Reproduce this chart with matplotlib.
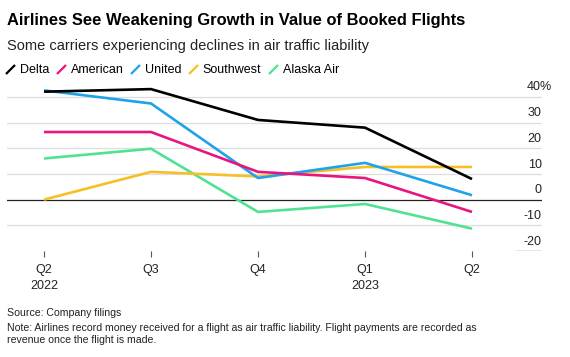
import matplotlib
matplotlib.use("Agg")
import matplotlib.pyplot as plt
import matplotlib.transforms as mtransforms
from matplotlib.lines import Line2D

# Valores (variação anual, %)
quarters = ["Q2\n2022", "Q3", "Q4", "Q1\n2023", "Q2"]
delta = [42, 43, 31, 28, 8]
american = [26.3, 26.3, 10.8, 8.4, -4.8]
united = [42.5, 37.4, 8.4, 14.3, 1.7]
southwest = [0, 10.8, 9, 12.7, 12.7]
alaska = [16, 19.8, -4.8, -1.7, -11.3]
y_ticks = [40, 30, 20, 10, 0, -10, -20]
y_labels = ["40%", "30", "20", "10", "0", "-10", "-20"]

series = [
    ("Delta", delta, "#000000", 6),
    ("American", american, "#e8157f", 5),
    ("United", united, "#1fa3e8", 4),
    ("Southwest", southwest, "#f6bf26", 3),
    ("Alaska Air", alaska, "#4fe391", 2),
]

plt.rcParams["font.family"] = ["Liberation Sans", "DejaVu Sans"]

W, H = 570, 357
fig = plt.figure(figsize=(W / 100, H / 100), dpi=100)

# eixo: de x=7px a 542px, y de -20 (251px) até o topo (85px)
ax = fig.add_axes([7 / W, (H - 251) / H, 535 / W, 166 / H])
ax.set_xlim(-0.346, 4.654)
ax.set_ylim(-20, 44.6)

for v in y_ticks:
    if v == 0:
        ax.axhline(v, color="#222222", lw=0.9, zorder=1)
    elif v == -20:
        ax.axhline(v, xmin=0.951, xmax=1, color="#444444", lw=0.9, zorder=1)
    else:
        ax.axhline(v, color="#dedede", lw=0.9, zorder=0)

x = list(range(len(quarters)))
for name, vals, color, z in series:
    ax.plot(x, vals, color=color, lw=1.9, zorder=z, solid_capstyle="butt")

# rótulos do eixo y à direita, acima das linhas de grade
trans = mtransforms.blended_transform_factory(ax.transAxes, ax.transData)
for v, lab in zip(y_ticks, y_labels):
    # o "%" fica pendurado à direita dos números
    t = trans if not lab.endswith("%") else mtransforms.offset_copy(trans, fig=fig, x=10, units="dots")
    ax.text(0.9995, v + 1.3, lab, transform=t, ha="right", va="bottom",
            fontsize=9, color="#222222")

ax.set_xticks(x)
ax.set_xticklabels(quarters, fontsize=9, color="#222222", linespacing=1.4)
ax.tick_params(axis="x", length=4, width=0.8, color="#555555", pad=5.5)
ax.set_yticks([])
for s in ax.spines.values():
    s.set_visible(False)

# título e subtítulo
fig.text(7 / W, 1 - 20 / H, "Airlines See Weakening Growth in Value of Booked Flights",
         fontsize=11.9, fontweight="bold", va="center", ha="left", color="#000000")
fig.text(7 / W, 1 - 46 / H, "Some carriers experiencing declines in air traffic liability",
         fontsize=10.5, va="center", ha="left", color="#222222")

handles = [Line2D([], [], color=c, marker=[(-1, -1), (1, 1)], markersize=6.5,
                  markeredgewidth=1.6, linestyle="none", label=n)
           for n, _, c, _ in series]
fig.legend(handles=handles, loc="center left", bbox_to_anchor=(6 / W, 1 - 70 / H),
           ncol=5, frameon=False, fontsize=9, handlelength=0.7, handletextpad=0.45,
           columnspacing=0.55, borderaxespad=0, borderpad=0)

fig.text(7 / W, 1 - 313 / H, "Source: Company filings", fontsize=7.6, va="center",
         color="#222222")
fig.text(7 / W, 1 - 334 / H,
         "Note: Airlines record money received for a flight as air traffic liability. "
         "Flight payments are recorded as\nrevenue once the flight is made.",
         fontsize=7.6, va="center", color="#222222", linespacing=1.2)

fig.savefig("out.png", dpi=100)
